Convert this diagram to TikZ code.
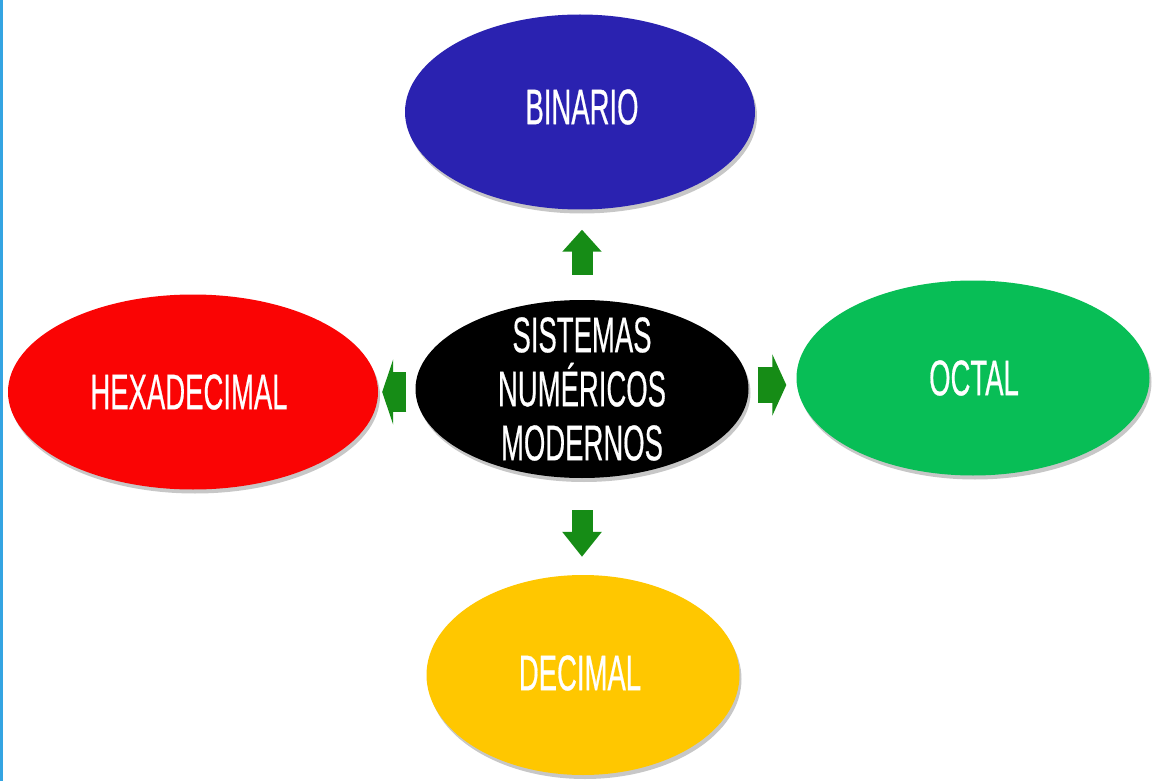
\documentclass[tikz,border=0pt]{standalone}
\usepackage{fontspec}
\setmainfont{Liberation Sans}[FakeBold=0.7]
\usetikzlibrary{shapes.geometric,arrows.meta,shadows}
\definecolor{cblue}{RGB}{42,34,176}
\definecolor{cred}{RGB}{250,4,4}
\definecolor{cgreen}{RGB}{8,190,86}
\definecolor{cyellow}{RGB}{255,199,0}
\definecolor{carrow}{RGB}{22,140,22}
\definecolor{cborder}{RGB}{52,164,226}
\newcommand{\sqz}[1]{\scalebox{0.55}[1]{#1}}
\begin{document}
\begin{tikzpicture}[x=1pt,y=-1pt,
  oval/.style n args={3}{ellipse, inner sep=0pt, fill=#1, minimum width=#2pt, minimum height=#3pt,
    drop shadow={shadow xshift=2pt, shadow yshift=-4pt, opacity=0.22, fill=black}},
  lbl/.style={text=white, font=\fontsize{50}{54}\selectfont, inner sep=0pt},
  blockarrow/.style n args={3}{draw=carrow, line width=#1pt,
    -{Triangle[length=#2pt, width=#3pt, fill=carrow]}},
]
\useasboundingbox (0,0) rectangle (1152,781);
\fill[white] (0,0) rectangle (1152,781);
\fill[cborder] (0,0) rectangle (3,781);

\node[oval={cblue}{350}{195}]   (b) at (580,112) {};
\node[oval={cred}{370}{195}]    (h) at (193,392) {};
\node[oval={black}{333}{178}]   (c) at (582,389) {};
\node[oval={cgreen}{353}{195}]  (o) at (973,378) {};
\node[oval={cyellow}{313}{200}] (d) at (583,675) {};

\node[lbl] (bt) at (582,107) {\sqz{BINARIO}};
\node[lbl] (ht) at (189,392) {\sqz{HEXADECIMAL}};
\node[lbl] (ot) at (974,378) {\sqz{OCTAL}};
\node[lbl] (dt) at (580,673) {\sqz{DECIMAL}};
\node[lbl, align=center] (ct) at (582,389)
  {\sqz{SISTEMAS}\\\sqz{NUMÉRICOS}\\\sqz{MODERNOS}};

\draw[blockarrow={21}{22}{38}, shorten <=25pt, shorten >=20pt] (c.north) -- (c.north |- b.south);
\draw[blockarrow={21}{25}{38}, shorten <=32pt, shorten >=18pt] (c.south) -- (c.south |- d.north);
\draw[blockarrow={40}{11}{65}, shorten <=9pt, shorten >=4pt] ([yshift=-3pt]c.west) -- ([yshift=-3pt]c.west -| h.east);
\draw[blockarrow={36}{14}{61}, shorten <=9pt, shorten >=10pt] ([yshift=4pt]c.east) -- ([yshift=4pt]c.east -| o.west);
\end{tikzpicture}
\end{document}
